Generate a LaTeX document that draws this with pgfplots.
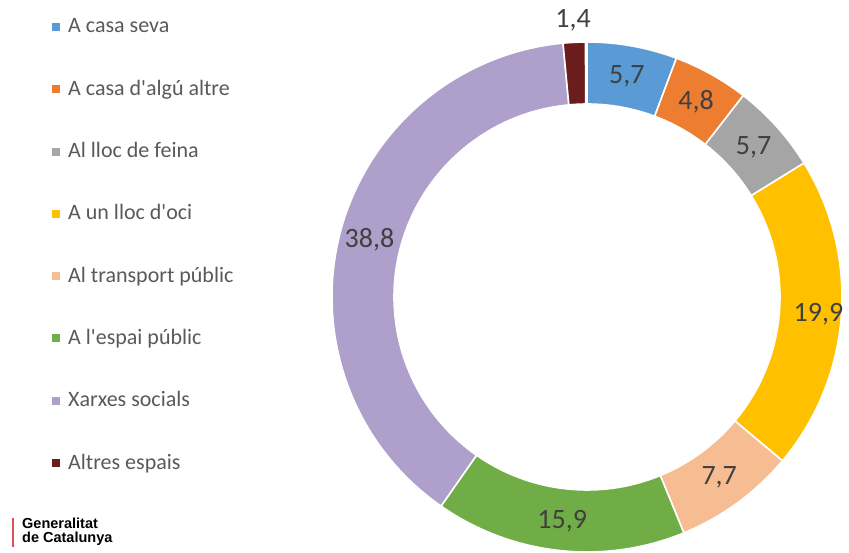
\documentclass[border=0pt]{standalone}
\usepackage{pgfplots}
\pgfplotsset{compat=1.18}
\usepackage{pgfplotstable}
\usepackage{fontspec}
\setmainfont{Carlito}[Ligatures=TeXOff]
\newfontfamily\logofont{Liberation Sans}

\definecolor{cA}{HTML}{5B9BD5}
\definecolor{cB}{HTML}{ED7D31}
\definecolor{cC}{HTML}{A5A5A5}
\definecolor{cD}{HTML}{FFC000}
\definecolor{cE}{HTML}{F6BD92}
\definecolor{cF}{HTML}{70AD47}
\definecolor{cG}{HTML}{AE9FCB}
\definecolor{cH}{HTML}{6B1D1D}
\definecolor{txt}{HTML}{404040}
\definecolor{legtxt}{HTML}{595959}
\definecolor{logored}{HTML}{D9525E}

% value, colour, label radius (px)
\pgfplotstableread{
value col lr
5.7  cA 224
4.8  cB 224
5.7  cC 224
19.9 cD 232
7.7  cE 224
15.9 cF 226
38.8 cG 225
1.4  cH 277
}\donut

\begin{document}
\begin{tikzpicture}
\begin{axis}[
  scale only axis, width=849pt, height=552pt,
  xmin=0, xmax=849, ymin=0, ymax=552,
  hide axis, clip=false]
\pgfplotsextra{
  \gdef\gstart{90}
  \foreach \i/\name in {0/{A casa seva},1/{A casa d'algú altre},2/{Al lloc de feina},3/{A un lloc d'oci},4/{Al transport públic},5/{A l'espai públic},6/{Xarxes socials},7/{Altres espais}}{
    \pgfplotstablegetelem{\i}{value}\of\donut \let\v\pgfplotsretval
    \pgfplotstablegetelem{\i}{col}\of\donut \let\col\pgfplotsretval
    \pgfplotstablegetelem{\i}{lr}\of\donut \let\lr\pgfplotsretval
    \pgfmathsetmacro\a{\gstart}
    \pgfmathsetmacro\b{\gstart-3.6*\v}
    \pgfmathsetmacro\m{(\a+\b)/2}
    \fill[fill=\col, draw=white, line width=1.6pt]
      ([shift={(\a:255pt)}]axis cs:587,255) arc[start angle=\a, end angle=\b, radius=255pt]
      -- ([shift={(\b:193pt)}]axis cs:587,255) arc[start angle=\b, end angle=\a, radius=193pt] -- cycle;
    \node[text=txt, font=\fontsize{28}{30}\selectfont, inner sep=0pt] at ([shift={(\m:\lr pt)}]axis cs:587,255)
      {\pgfmathprintnumber[fixed, precision=1, fixed zerofill, use comma, assume math mode=true]{\v}};
    \xdef\gstart{\b}
    % legend
    \pgfmathsetmacro\ly{552-27-62.3*\i}
    \fill[fill=\col] (axis cs:52,\ly-4) rectangle (axis cs:60,\ly+4);
    \node[text=legtxt, font=\fontsize{22}{24}\selectfont, anchor=base west, inner sep=0pt] at (axis cs:68,\ly-6) {\name};
  }
  % logo
  \fill[logored] (axis cs:12,5) rectangle (axis cs:14,34);
  \node[anchor=base west, inner sep=0pt, font=\logofont\bfseries\fontsize{14.5}{16}\selectfont] at (axis cs:22,24) {Generalitat};
  \node[anchor=base west, inner sep=0pt, font=\logofont\bfseries\fontsize{14.5}{16}\selectfont] at (axis cs:22,10) {de Catalunya};
}
\end{axis}
\pgfresetboundingbox
\path[use as bounding box] (current axis.south west) rectangle (current axis.north east);
\end{tikzpicture}
\end{document}
